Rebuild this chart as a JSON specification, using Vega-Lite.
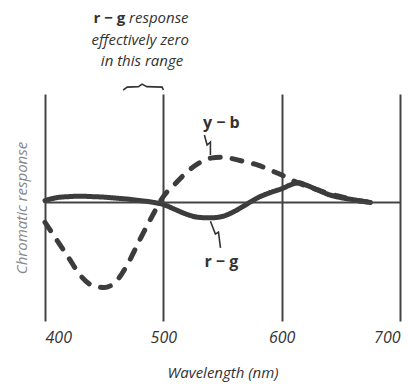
{
  "$schema": "https://vega.github.io/schema/vega-lite/v6.json",
  "width": 355,
  "height": 227,
  "autosize": {"type": "none"},
  "padding": {"left": 45, "top": 94, "right": 9, "bottom": 64},
  "background": "white",
  "config": {
    "view": {"stroke": null},
    "font": "Open Sans"
  },
  "datasets": {
    "curves": [
      {"wl": 400, "v": -0.20, "s": "y − b"},
      {"wl": 410, "v": -0.38, "s": "y − b"},
      {"wl": 420, "v": -0.56, "s": "y − b"},
      {"wl": 430, "v": -0.74, "s": "y − b"},
      {"wl": 440, "v": -0.84, "s": "y − b"},
      {"wl": 450, "v": -0.86, "s": "y − b"},
      {"wl": 460, "v": -0.80, "s": "y − b"},
      {"wl": 470, "v": -0.62, "s": "y − b"},
      {"wl": 480, "v": -0.38, "s": "y − b"},
      {"wl": 490, "v": -0.15, "s": "y − b"},
      {"wl": 500, "v": 0.06, "s": "y − b"},
      {"wl": 510, "v": 0.19, "s": "y − b"},
      {"wl": 520, "v": 0.31, "s": "y − b"},
      {"wl": 530, "v": 0.40, "s": "y − b"},
      {"wl": 540, "v": 0.45, "s": "y − b"},
      {"wl": 550, "v": 0.46, "s": "y − b"},
      {"wl": 560, "v": 0.44, "s": "y − b"},
      {"wl": 570, "v": 0.41, "s": "y − b"},
      {"wl": 580, "v": 0.38, "s": "y − b"},
      {"wl": 590, "v": 0.33, "s": "y − b"},
      {"wl": 600, "v": 0.28, "s": "y − b"},
      {"wl": 610, "v": 0.22, "s": "y − b"},
      {"wl": 620, "v": 0.17, "s": "y − b"},
      {"wl": 630, "v": 0.13, "s": "y − b"},
      {"wl": 640, "v": 0.09, "s": "y − b"},
      {"wl": 650, "v": 0.06, "s": "y − b"},
      {"wl": 660, "v": 0.03, "s": "y − b"},
      {"wl": 670, "v": 0.01, "s": "y − b"},
      {"wl": 680, "v": 0.0, "s": "y − b"},
      {"wl": 400, "v": 0.02, "s": "r − g"},
      {"wl": 410, "v": 0.05, "s": "r − g"},
      {"wl": 420, "v": 0.06, "s": "r − g"},
      {"wl": 430, "v": 0.065, "s": "r − g"},
      {"wl": 440, "v": 0.06, "s": "r − g"},
      {"wl": 450, "v": 0.055, "s": "r − g"},
      {"wl": 460, "v": 0.045, "s": "r − g"},
      {"wl": 470, "v": 0.035, "s": "r − g"},
      {"wl": 480, "v": 0.02, "s": "r − g"},
      {"wl": 490, "v": 0.005, "s": "r − g"},
      {"wl": 500, "v": -0.02, "s": "r − g"},
      {"wl": 510, "v": -0.07, "s": "r − g"},
      {"wl": 520, "v": -0.12, "s": "r − g"},
      {"wl": 530, "v": -0.15, "s": "r − g"},
      {"wl": 540, "v": -0.155, "s": "r − g"},
      {"wl": 550, "v": -0.14, "s": "r − g"},
      {"wl": 560, "v": -0.09, "s": "r − g"},
      {"wl": 570, "v": -0.02, "s": "r − g"},
      {"wl": 580, "v": 0.05, "s": "r − g"},
      {"wl": 590, "v": 0.10, "s": "r − g"},
      {"wl": 600, "v": 0.14, "s": "r − g"},
      {"wl": 610, "v": 0.19, "s": "r − g"},
      {"wl": 615, "v": 0.20, "s": "r − g"},
      {"wl": 620, "v": 0.18, "s": "r − g"},
      {"wl": 630, "v": 0.13, "s": "r − g"},
      {"wl": 640, "v": 0.08, "s": "r − g"},
      {"wl": 650, "v": 0.05, "s": "r − g"},
      {"wl": 660, "v": 0.03, "s": "r − g"},
      {"wl": 670, "v": 0.01, "s": "r − g"},
      {"wl": 675, "v": 0.0, "s": "r − g"}
    ],
    "strokes": [
      {"g": "brace", "wl": 466, "v": 1.14},
      {"g": "brace", "wl": 469.5, "v": 1.17},
      {"g": "brace", "wl": 479, "v": 1.175},
      {"g": "brace", "wl": 482, "v": 1.2},
      {"g": "brace", "wl": 486, "v": 1.175},
      {"g": "brace", "wl": 499, "v": 1.17},
      {"g": "brace", "wl": 500, "v": 1.14},
      {"g": "yb", "wl": 534.7, "v": 0.685},
      {"g": "yb", "wl": 537, "v": 0.583},
      {"g": "yb", "wl": 539.8, "v": 0.614},
      {"g": "yb", "wl": 539.8, "v": 0.482},
      {"g": "rg", "wl": 539.8, "v": -0.19},
      {"g": "rg", "wl": 544, "v": -0.32},
      {"g": "rg", "wl": 546.6, "v": -0.30},
      {"g": "rg", "wl": 548.3, "v": -0.46}
    ]
  },
  "layer": [
    {
      "data": {"name": "curves"},
      "mark": {"type": "line", "color": "#3c3c3c", "strokeWidth": 5, "interpolate": "monotone", "strokeCap": "round"},
      "encoding": {
        "x": {
          "field": "wl", "type": "quantitative",
          "scale": {"domain": [400, 700], "nice": false, "zero": false},
          "axis": {
            "values": [400, 500, 600, 700],
            "grid": true, "gridColor": "#444", "gridWidth": 2, "gridOpacity": 1,
            "domain": false, "ticks": false,
            "labelFont": "Open Sans", "labelFontStyle": "italic", "labelFontSize": 16,
            "labelColor": "#333", "labelPadding": 8,
            "title": "Wavelength (nm)", "titleFont": "Open Sans", "titleFontStyle": "italic",
            "titleFontWeight": "normal", "titleFontSize": 15, "titleColor": "#333", "titlePadding": 20
          }
        },
        "y": {
          "field": "v", "type": "quantitative",
          "scale": {"domain": [-1.2, 1.1], "nice": false, "zero": false},
          "axis": {
            "labels": false, "ticks": false, "grid": false, "domain": false,
            "title": "Chromatic response", "titleFont": "Open Sans", "titleFontStyle": "italic",
            "titleFontWeight": "normal", "titleFontSize": 15, "titleColor": "#888", "titlePadding": 16
          }
        },
        "strokeDash": {
          "field": "s", "type": "nominal",
          "scale": {"domain": ["r − g", "y − b"], "range": [[1, 0], [10, 12]]},
          "legend": null
        }
      }
    },
    {
      "data": {"values": [{"v": 0}]},
      "mark": {"type": "rule", "color": "#444", "strokeWidth": 2},
      "encoding": {"y": {"field": "v", "type": "quantitative"}}
    },
    {
      "data": {"name": "strokes"},
      "mark": {"type": "line", "color": "#333", "strokeWidth": 1.6},
      "encoding": {
        "x": {"field": "wl", "type": "quantitative"},
        "y": {"field": "v", "type": "quantitative"},
        "detail": {"field": "g"}
      }
    },
    {
      "data": {"values": [
        {"wl": 549, "v": 0.81, "t": "y − b"},
        {"wl": 549, "v": -0.60, "t": "r − g"}
      ]},
      "mark": {"type": "text", "font": "Open Sans", "fontWeight": "bold", "fontSize": 16, "color": "#333", "align": "center", "baseline": "middle"},
      "encoding": {
        "x": {"field": "wl", "type": "quantitative"},
        "y": {"field": "v", "type": "quantitative"},
        "text": {"field": "t"}
      }
    },
    {
      "data": {"values": [
        {"wl": 467.8, "v": 1.874, "t": "r − g"}
      ]},
      "mark": {"type": "text", "font": "Open Sans", "fontWeight": "bold", "fontSize": 15, "color": "#333", "align": "right", "baseline": "middle"},
      "encoding": {
        "x": {"field": "wl", "type": "quantitative"},
        "y": {"field": "v", "type": "quantitative"},
        "text": {"field": "t"}
      }
    },
    {
      "data": {"values": [
        {"wl": 471, "v": 1.874, "t": "response"}
      ]},
      "mark": {"type": "text", "font": "Open Sans", "fontStyle": "italic", "fontSize": 15, "color": "#333", "align": "left", "baseline": "middle"},
      "encoding": {
        "x": {"field": "wl", "type": "quantitative"},
        "y": {"field": "v", "type": "quantitative"},
        "text": {"field": "t"}
      }
    },
    {
      "data": {"values": [
        {"wl": 480.5, "v": 1.65, "t": "effectively zero"},
        {"wl": 482, "v": 1.43, "t": "in this range"}
      ]},
      "mark": {"type": "text", "font": "Open Sans", "fontStyle": "italic", "fontSize": 15, "color": "#333", "align": "center", "baseline": "middle"},
      "encoding": {
        "x": {"field": "wl", "type": "quantitative"},
        "y": {"field": "v", "type": "quantitative"},
        "text": {"field": "t"}
      }
    }
  ]
}
